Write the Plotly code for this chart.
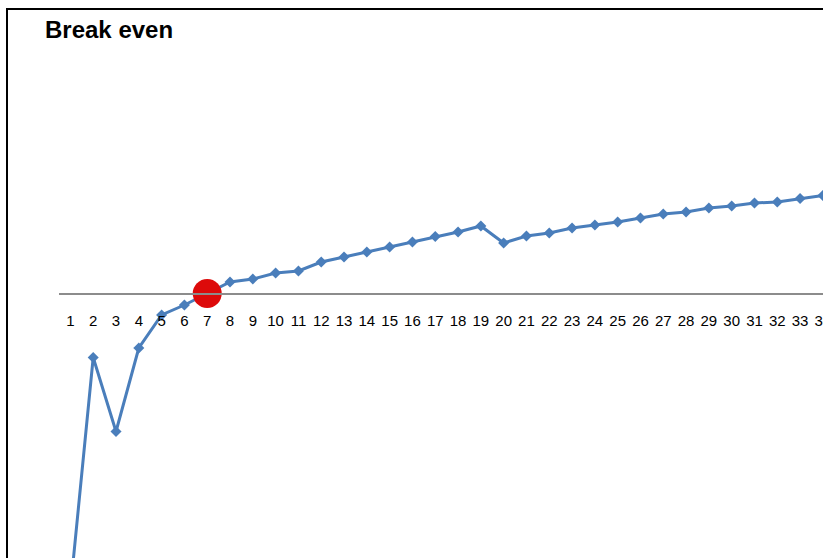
import plotly.graph_objects as go

# Cumulative profit per period (break-even reached in period 7)
periods = list(range(1, 35))
period_labels = [str(p) for p in periods]
cumulative_profit = [
    -2960, -640, -1380, -545, -215, -115, 0, 115, 145, 205,
    225, 315, 365, 415, 465, 515, 570, 615, 675, 505,
    575, 605, 655, 685, 715, 755, 795, 815, 855, 875,
    905, 915, 950, 980,
]
break_even_period = 7
break_even_value = cumulative_profit[periods.index(break_even_period)]

line_color = "#4A7EBB"
y_range = [-2645, 2935]
x_range = [0.5, 34.005]
# put the category axis where the value axis crosses zero
zero_position = (0 - y_range[0]) / (y_range[1] - y_range[0])

fig = go.Figure()
fig.add_trace(go.Scatter(
    x=periods,
    y=cumulative_profit,
    mode="lines+markers",
    line=dict(color=line_color, width=3),
    marker=dict(symbol="diamond", size=8.5, color=line_color),
    hoverinfo="x+y",
    showlegend=False,
))
fig.add_trace(go.Scatter(
    x=[break_even_period],
    y=[break_even_value],
    mode="markers",
    marker=dict(symbol="circle", size=29, color="#DD0A0A"),
    hoverinfo="x+y",
    showlegend=False,
))

fig.update_layout(
    width=823,
    height=558,
    margin=dict(l=59, r=0, t=0, b=0, autoexpand=False),
    paper_bgcolor="white",
    plot_bgcolor="white",
    font=dict(family="Liberation Sans, Arial, sans-serif", color="#000000"),
    title=dict(
        text="<b>Break even</b>",
        font=dict(size=24, color="#000000"),
        x=45 / 823,
        xanchor="left",
        xref="container",
        y=1 - 21 / 558,
        yanchor="top",
        yref="container",
        automargin=False,
    ),
    xaxis=dict(
        range=x_range,
        automargin=False,
        tickmode="array",
        tickvals=periods,
        ticktext=period_labels,
        tickfont=dict(size=15, color="#000000"),
        ticks="",
        ticklabelstandoff=14,
        ticklabeloverflow="allow",
        showgrid=False,
        zeroline=False,
        showline=True,
        linecolor="#8C8C8C",
        linewidth=1.5,
        anchor="free",
        position=zero_position,
    ),
    yaxis=dict(
        range=y_range,
        automargin=False,
        visible=False,
        showgrid=False,
        zeroline=False,
    ),
    shapes=[
        dict(
            type="rect",
            xref="paper",
            yref="paper",
            x0=-52 / 764,
            x1=1.1,
            y0=-0.1,
            y1=1 - 9 / 558,
            line=dict(color="#000000", width=2),
            fillcolor="rgba(0,0,0,0)",
            layer="above",
        )
    ],
)

fig.write_html("out.html")
